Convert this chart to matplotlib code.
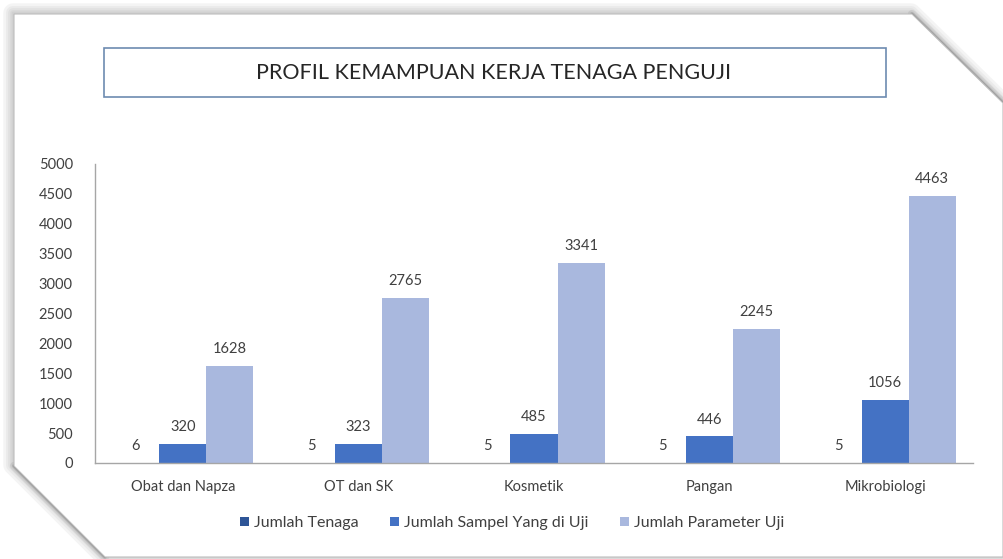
import matplotlib.pyplot as plt
from matplotlib.patches import Polygon, Rectangle
import numpy as np

plt.rcParams['font.family'] = ['Lato', 'DejaVu Sans']

categories = ["Obat dan Napza", "OT dan SK", "Kosmetik", "Pangan", "Mikrobiologi"]
jumlah_tenaga = [6, 5, 5, 5, 5]
jumlah_sampel = [320, 323, 485, 446, 1056]
jumlah_parameter = [1628, 2765, 3341, 2245, 4463]

series = [
    ("Jumlah Tenaga", jumlah_tenaga, "#2e5597"),
    ("Jumlah Sampel Yang di Uji", jumlah_sampel, "#4472c4"),
    ("Jumlah Parameter Uji", jumlah_parameter, "#a9b8de"),
]

W, H = 1004, 559
fig = plt.figure(figsize=(W / 100, H / 100), dpi=100)
fig.patch.set_facecolor("white")


def px(points):
    return [(x / W, 1 - y / H) for x, y in points]


# page with clipped corners and a soft shadow
page = [(14, 14), (912, 14), (1003, 103), (1003, 557), (105, 557), (14, 466)]
for lw in [14, 10, 7, 4, 2]:
    fig.patches.append(Polygon(px([(x - 1, y - 1) for x, y in page]), closed=True,
                               transform=fig.transFigure, facecolor="none",
                               edgecolor="#707070", linewidth=lw, alpha=0.07,
                               joinstyle="round", zorder=0))
# darker shadow along the two cut corners
for seg in [[(912, 14), (1003, 103)], [(14, 466), (105, 557)]]:
    for lw, a in [(6, 0.12), (3, 0.2), (1.5, 0.35)]:
        xs, ys = zip(*px(seg))
        fig.add_artist(plt.Line2D(xs, ys, transform=fig.transFigure, color="#606060",
                                  linewidth=lw, alpha=a, solid_capstyle="round", zorder=0))
fig.patches.append(Polygon(px(page), closed=True, transform=fig.transFigure,
                           facecolor="white", edgecolor="#bdbdbd", linewidth=0.8, zorder=1))

# title box
fig.patches.append(Rectangle((104 / W, 1 - 97 / H), (886 - 104) / W, 49 / H,
                             transform=fig.transFigure, facecolor="white",
                             edgecolor="#6d8bb0", linewidth=1.2, zorder=2))
fig.text(494 / W, 1 - 73 / H, "PROFIL KEMAMPUAN KERJA TENAGA PENGUJI",
         ha="center", va="center", fontsize=15.5, color="#262626", zorder=3)

ax = fig.add_axes([95 / W, 1 - 463 / H, (973 - 95) / W, (463 - 164) / H])
ax.set_facecolor("none")
ax.set_zorder(3)

x = np.arange(len(categories))
width = 0.268
for i, (name, vals, color) in enumerate(series):
    pos = x + (i - 1) * width
    bars = ax.bar(pos, vals, width, color=color, label=name)
    for b, v in zip(bars, vals):
        ax.annotate(str(v), (b.get_x() + b.get_width() / 2, v),
                    xytext=(0, 7), textcoords="offset points",
                    ha="center", va="bottom", fontsize=10.5, color="#404040")

ax.set_xlim(-0.5, len(categories) - 0.5)
ax.set_ylim(0, 5000)
ax.set_yticks(range(0, 5001, 500))
ax.set_xticks(x)
ax.set_xticklabels(categories)
ax.tick_params(axis="both", length=0, labelsize=10.5, colors="#404040")
ax.tick_params(axis="y", pad=16)
ax.tick_params(axis="x", pad=12)

ax.spines["top"].set_visible(False)
ax.spines["right"].set_visible(False)
for s in ["left", "bottom"]:
    ax.spines[s].set_color("#a6a6a6")
    ax.spines[s].set_linewidth(1)

ax.legend(loc="center", bbox_to_anchor=(512 / W, 1 - 523 / H),
          bbox_transform=fig.transFigure, ncol=3, frameon=False,
          fontsize=11.5, handlelength=0.55, handleheight=0.55,
          handletextpad=0.3, columnspacing=2.0, labelcolor="#404040")

fig.savefig("out.png", dpi=100)
